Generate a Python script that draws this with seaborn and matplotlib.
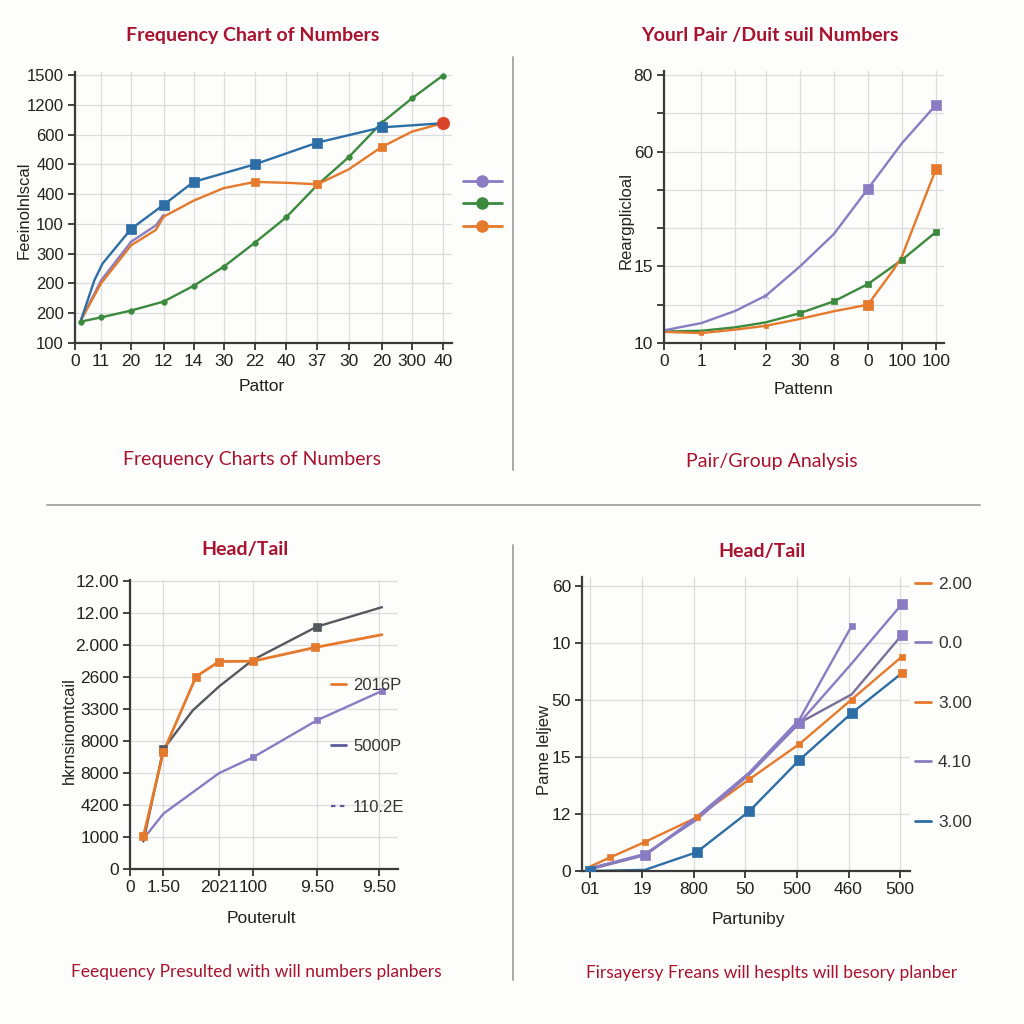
import matplotlib
matplotlib.use('Agg')

import matplotlib.pyplot as plt
import seaborn as sns
from matplotlib.lines import Line2D

# ---- panel 1: Frequency Chart of Numbers ----
p1_xticks = [0, 0.85, 1.83, 2.89, 3.87, 4.85, 5.87, 6.89, 7.91, 8.93, 10, 11, 12]
p1_xlabels = ['0', '11', '20', '12', '14', '30', '22', '40', '37', '30', '20', '300', '40']
p1_ylabels = ['100', '200', '200', '300', '100', '400', '400', '600', '1200', '1500']

p1_blue_x = [0.2, 0.63, 0.9, 1.83, 2.89, 3.87, 5.87, 7.91, 10, 12]
p1_blue_y = [0.78, 2.1, 2.67, 3.83, 4.64, 5.41, 6.0, 6.73, 7.24, 7.38]
p1_blue_mx = [1.83, 2.89, 3.87, 5.87, 7.91, 10]
p1_blue_my = [3.83, 4.64, 5.41, 6.0, 6.73, 7.24]

p1_orange_x = [0.2, 0.85, 1.83, 2.64, 2.89, 3.87, 4.85, 5.87, 6.89, 7.91, 8.93, 10, 11, 12]
p1_orange_y = [0.78, 2.0, 3.28, 3.8, 4.24, 4.78, 5.2, 5.41, 5.38, 5.33, 5.83, 6.58, 7.1, 7.38]
p1_orange_mx = [5.87, 7.91, 10]
p1_orange_my = [5.41, 5.33, 6.58]

p1_purple_x = [0.2, 0.85, 1.83, 2.64, 2.89]
p1_purple_y = [0.78, 2.1, 3.4, 3.95, 4.3]

p1_green_x = [0.2, 0.85, 1.83, 2.89, 3.87, 4.85, 5.87, 6.89, 7.91, 8.93, 10, 11, 12]
p1_green_y = [0.72, 0.86, 1.09, 1.39, 1.92, 2.56, 3.37, 4.22, 5.31, 6.24, 7.39, 8.22, 8.98]

# ---- panel 2: Pair/Group ----
p2_xticks = [0, 1.1, 2.1, 3, 4, 5, 6, 7, 8]
p2_xlabels = ['0', '1', '', '2', '30', '8', '0', '100', '100']
p2_ylabels = ['10', '', '15', '', '', '60', '', '80']

p2_purple_y = [0.33, 0.52, 0.84, 1.24, 2.0, 2.85, 4.03, 5.22, 6.22]
p2_green_y = [0.3, 0.32, 0.41, 0.54, 0.78, 1.09, 1.54, 2.17, 2.9]
p2_orange_x = [0, 1.1, 2.1, 3, 4, 5, 6, 6.75, 7, 8]
p2_orange_y = [0.29, 0.26, 0.35, 0.45, 0.63, 0.83, 1.0, 1.91, 2.26, 4.54]
p2_orange_big_x = [6, 8]
p2_orange_big_y = [1.0, 4.54]
p2_purple_big_x = [6, 8]
p2_purple_big_y = [4.03, 6.22]

# ---- panel 3: Head/Tail (left) ----
p3_xticks = [0, 1.0, 2.67, 3.68, 5.6, 7.45]
p3_xlabels = ['0', '1.50', '2021', '100', '9.50', '9.50']
p3_ylabels = ['0', '1000', '4200', '8000', '8000', '3300', '2600', '2.000', '12.00', '12.00']

p3_gray_x = [0.4, 1.0, 1.88, 2.67, 3.68, 5.6, 7.55]
p3_gray_y = [0.86, 3.75, 4.96, 5.71, 6.54, 7.58, 8.19]
p3_orange_x = [0.4, 1.0, 1.98, 2.67, 3.68, 5.55, 7.55]
p3_orange_y = [1.02, 3.66, 6.02, 6.49, 6.5, 6.93, 7.33]
p3_purple_x = [0.4, 1.0, 2.67, 3.68, 5.6, 7.55]
p3_purple_y = [0.94, 1.73, 3.0, 3.49, 4.65, 5.57]
p3_legend = ['2016P', '5000P', '110.2E']

# ---- panel 4: Head/Tail (right) ----
p4_xlabels = ['01', '19', '800', '50', '500', '460', '500']
p4_ylabels = ['0', '12', '15', '50', '10', '60']

p4_blue_x = [0, 1.06, 2.06, 3.08, 4.05, 5.06, 6.03]
p4_blue_y = [0, 0.02, 0.33, 1.05, 1.95, 2.77, 3.47]
p4_orange_x = [0, 0.39, 1.06, 2.06, 3.08, 4.05, 5.06, 6.03]
p4_orange_y = [0.08, 0.24, 0.51, 0.94, 1.61, 2.23, 3.01, 3.76]
p4_purple_a_x = [0, 1.06, 2.06, 3.08, 4.05, 5.06]
p4_purple_a_y = [0.05, 0.28, 0.95, 1.73, 2.66, 4.3]
p4_purple_b_x = [0, 1.06, 2.06, 3.08, 4.05, 5.06, 5.3, 6.03]
p4_purple_b_y = [0.05, 0.3, 0.9, 1.7, 2.6, 3.64, 3.9, 4.68]
p4_gray_x = [0, 1.06, 2.06, 3.08, 4.05, 5.06, 6.03]
p4_gray_y = [0.03, 0.28, 0.92, 1.7, 2.6, 3.1, 4.14]
p4_legend = ['2.00', '0.0', '3.00', '4.10', '3.00']

BLUE = '#2d6ea6'
ORANGE = '#e5792c'
GREEN = '#3b8a3e'
PURPLE = '#8a7cc2'
RED = '#d9452b'
GRAY = '#55595f'
CRIMSON = '#a8122f'

sns.set_theme(style='whitegrid')
plt.rcParams['font.family'] = ['Liberation Sans Narrow', 'Liberation Sans', 'DejaVu Sans']
plt.rcParams['axes.edgecolor'] = '#3a3a3a'
plt.rcParams['grid.color'] = '#dcdcdc'
plt.rcParams['grid.linewidth'] = 0.9

TITLE_FONT = ['Lato', 'DejaVu Sans']
CAP_FONT = ['Liberation Sans Narrow', 'Lato', 'DejaVu Sans']

fig = plt.figure(figsize=(10.24, 10.24), dpi=100)
fig.patch.set_facecolor('#fdfdfb')


def px_rect(left, top, right, bottom):
    return [left / 1024, 1 - bottom / 1024, (right - left) / 1024, (bottom - top) / 1024]


def style_axes(ax, xlabel, ylabel, xpos, ypos):
    ax.set_facecolor('#fdfdfb')
    for s in ['top', 'right']:
        ax.spines[s].set_visible(False)
    for s in ['left', 'bottom']:
        ax.spines[s].set_linewidth(1.6)
    ax.tick_params(axis='both', length=5, width=1.2, pad=3, labelsize=12.5,
                   colors='#222222', left=True, bottom=True)
    ax.set_xlabel(xlabel, fontsize=12.5, color='#222222')
    ax.set_ylabel(ylabel, fontsize=12, color='#222222')
    ax.xaxis.set_label_coords(*xpos)
    ax.yaxis.set_label_coords(*ypos)
    ax.xaxis.label.set_va('center')
    ax.yaxis.label.set_va('center')


def line(ax, x, y, color, lw=1.7):
    sns.lineplot(x=x, y=y, ax=ax, color=color, linewidth=lw, sort=False, estimator=None)


def dots(ax, x, y, color, marker, size):
    sns.scatterplot(x=x, y=y, ax=ax, color=color, marker=marker, s=size,
                    edgecolor=color, linewidth=0.5, zorder=5)


# ---------- panel 1 ----------
ax1 = fig.add_axes(px_rect(75, 72, 452, 343))
line(ax1, p1_green_x, p1_green_y, GREEN)
dots(ax1, p1_green_x, p1_green_y, GREEN, 'o', 16)
line(ax1, p1_purple_x, p1_purple_y, PURPLE)
line(ax1, p1_orange_x, p1_orange_y, ORANGE)
dots(ax1, p1_orange_mx, p1_orange_my, ORANGE, 's', 40)
line(ax1, p1_blue_x, p1_blue_y, BLUE)
dots(ax1, p1_blue_mx, p1_blue_my, BLUE, 's', 55)
dots(ax1, p1_orange_x[-1:], p1_orange_y[-1:], RED, 'o', 80)
ax1.set_xlim(0, 12.3)
ax1.set_ylim(0, 9.1)
ax1.set_xticks(p1_xticks, p1_xlabels)
ax1.set_yticks(range(len(p1_ylabels)), p1_ylabels)
ax1.tick_params(axis='y', labelsize=12)
style_axes(ax1, 'Pattor', 'Feeinolnlscal', (0.496, -0.16), (-0.135, 0.49))
ax1.tick_params(axis='y', labelsize=12)
h1 = [Line2D([], [], color=c, lw=2, marker='o', markersize=8) for c in [PURPLE, GREEN, ORANGE]]
ax1.legend(h1, [' ', ' ', ' '], loc='center left', bbox_to_anchor=(0.99, 0.51),
           frameon=False, handlelength=2.3, labelspacing=0.45, fontsize=12)

# ---------- panel 2 ----------
ax2 = fig.add_axes(px_rect(664, 71, 944, 343))
line(ax2, p2_xticks, p2_green_y, GREEN)
dots(ax2, p2_xticks[4:], p2_green_y[4:], GREEN, 's', 18)
line(ax2, p2_orange_x, p2_orange_y, ORANGE)
dots(ax2, [p2_xticks[1], p2_xticks[3]], [p2_orange_y[1], p2_orange_y[3]], ORANGE, 's', 12)
dots(ax2, p2_orange_big_x, p2_orange_big_y, ORANGE, 's', 60)
line(ax2, p2_xticks, p2_purple_y, PURPLE)
dots(ax2, p2_purple_big_x, p2_purple_big_y, PURPLE, 's', 50)
dots(ax2, [p2_xticks[3]], [p2_purple_y[3]], PURPLE, 'x', 14)
ax2.set_xlim(0, 8.24)
ax2.set_ylim(0, 7.11)
ax2.set_xticks(p2_xticks, p2_xlabels)
ax2.set_yticks(range(len(p2_ylabels)), p2_ylabels)
style_axes(ax2, 'Pattenn', 'Reargplicloal', (0.5, -0.17), (-0.135, 0.45))

# ---------- panel 3 ----------
ax3 = fig.add_axes(px_rect(130, 580, 398, 869))
line(ax3, p3_purple_x, p3_purple_y, PURPLE)
dots(ax3, p3_purple_x[3:], p3_purple_y[3:], PURPLE, 's', 14)
line(ax3, p3_gray_x, p3_gray_y, GRAY)
dots(ax3, [p3_gray_x[1], p3_gray_x[5]], [p3_gray_y[1], p3_gray_y[5]], GRAY, 's', 40)
line(ax3, p3_orange_x, p3_orange_y, ORANGE, lw=2)
dots(ax3, p3_orange_x[:6], p3_orange_y[:6], ORANGE, 's', 38)
ax3.set_xlim(0, 8.03)
ax3.set_ylim(0, 9.04)
ax3.set_xticks(p3_xticks, p3_xlabels)
ax3.set_yticks(range(len(p3_ylabels)), p3_ylabels)
style_axes(ax3, 'Pouterult', 'hkrnsinomtcail', (0.49, -0.17), (-0.225, 0.48))
h3 = [Line2D([], [], color=ORANGE, lw=2),
      Line2D([], [], color='#5b5a9c', lw=2),
      Line2D([], [], color='#5b5a9c', lw=1.6, ls=(0, (2, 2)))]
ax3.legend(h3, p3_legend, loc='upper left', bbox_to_anchor=(0.72, 0.69), frameon=False,
           handlelength=0.9, handletextpad=0.4, labelspacing=2.75, fontsize=12,
           borderpad=0, labelcolor='#333333')

# ---------- panel 4 ----------
ax4 = fig.add_axes(px_rect(582, 577, 910, 871))
line(ax4, p4_blue_x, p4_blue_y, BLUE)
dots(ax4, p4_blue_x[2:6], p4_blue_y[2:6], BLUE, 's', 50)
dots(ax4, p4_blue_x[:1], p4_blue_y[:1], BLUE, 's', 50)
line(ax4, p4_gray_x, p4_gray_y, '#7a6f9a')
line(ax4, p4_orange_x, p4_orange_y, ORANGE)
dots(ax4, p4_orange_x[1:], p4_orange_y[1:], ORANGE, 's', 22)
dots(ax4, p4_blue_x[-1:], p4_blue_y[-1:], ORANGE, 's', 30)
line(ax4, p4_purple_a_x, p4_purple_a_y, PURPLE)
line(ax4, p4_purple_b_x, p4_purple_b_y, PURPLE)
dots(ax4, [p4_gray_x[1], p4_gray_x[4], p4_gray_x[6]], [p4_gray_y[1], p4_gray_y[4], p4_gray_y[6]],
     PURPLE, 's', 45)
dots(ax4, p4_purple_a_x[-1:], p4_purple_a_y[-1:], PURPLE, 's', 25)
dots(ax4, p4_purple_b_x[-1:], p4_purple_b_y[-1:], PURPLE, 's', 60)
ax4.set_xlim(-0.16, 6.19)
ax4.set_ylim(0, 5.16)
ax4.set_xticks(range(len(p4_xlabels)), p4_xlabels)
ax4.set_yticks(range(len(p4_ylabels)), p4_ylabels)
style_axes(ax4, 'Partuniby', 'Pame leljew', (0.506, -0.165), (-0.115, 0.41))
h4 = [Line2D([], [], color=c, lw=2) for c in [ORANGE, PURPLE, ORANGE, PURPLE, BLUE]]
ax4.legend(h4, p4_legend, loc='upper left', bbox_to_anchor=(0.99, 1.03), frameon=False,
           handlelength=0.9, handletextpad=0.4, labelspacing=2.55, fontsize=12.5,
           borderpad=0, labelcolor='#333333')

# ---------- titles, captions, dividers ----------
def ftext(px, py, s, bold, size, fam):
    fig.text(px / 1024, 1 - py / 1024, s, ha='center', va='center', color=CRIMSON,
             fontsize=size, fontweight='bold' if bold else 'normal', family=fam)


ftext(253, 35, 'Frequency Chart of Numbers', True, 14, TITLE_FONT)
ftext(770, 35, 'Yourl Pair /Duit suil Numbers', True, 14, TITLE_FONT)
ftext(245, 550, 'Head/Tail', True, 14, TITLE_FONT)
ftext(762, 552, 'Head/Tail', True, 14, TITLE_FONT)
ftext(252, 459, 'Frequency Charts of Numbers', False, 14, CAP_FONT)
ftext(772, 461, 'Pair/Group Analysis', False, 14, CAP_FONT)
ftext(256, 972, 'Feequency Presulted with will numbers planbers', False, 12.5, CAP_FONT)
ftext(772, 973, 'Firsayersy Freans will hesplts will besory planber', False, 12.5, CAP_FONT)

for seg in [((513, 513), (57, 470)), ((513, 513), (545, 980)), ((47, 980), (505, 505))]:
    xs = [v / 1024 for v in seg[0]]
    ys = [1 - v / 1024 for v in seg[1]]
    fig.add_artist(Line2D(xs, ys, transform=fig.transFigure, color='#a8a8a8', lw=1.4))

plt.savefig('out.png', dpi=100, facecolor=fig.get_facecolor())
